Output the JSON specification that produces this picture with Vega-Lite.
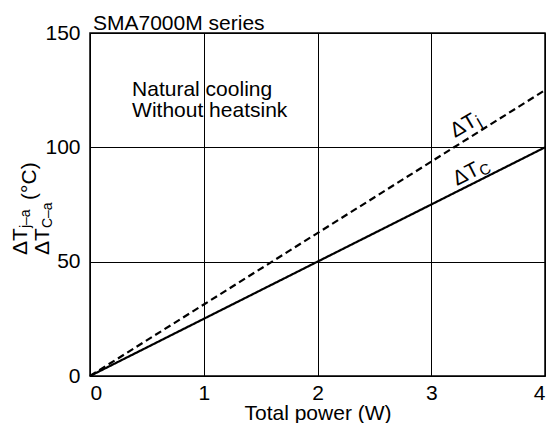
{
  "$schema": "https://vega.github.io/schema/vega-lite/v6.json",
  "width": 455,
  "height": 343,
  "autosize": "none",
  "padding": {"left": 90, "top": 33, "right": 6, "bottom": 47},
  "background": "white",
  "config": {
    "font": "Liberation Sans",
    "view": {"stroke": "black", "strokeWidth": 1.5},
    "axis": {
      "grid": true, "gridColor": "black", "gridWidth": 1, "gridOpacity": 1,
      "domain": false, "ticks": false,
      "labelFont": "Liberation Sans", "labelFontSize": 21, "labelColor": "black",
      "titleFont": "Liberation Sans", "titleFontSize": 21, "titleFontWeight": "normal", "titleColor": "black"
    }
  },
  "title": {
    "text": "SMA7000M series",
    "anchor": "start", "frame": "group", "fontSize": 21, "fontWeight": "normal",
    "font": "Liberation Sans", "color": "black", "baseline": "alphabetic", "offset": -29, "dx": 3
  },
  "layer": [
    {
      "data": {"values": [
        {"series": "Tj", "power": 0, "temp": 0},
        {"series": "Tj", "power": 4, "temp": 125},
        {"series": "Tc", "power": 0, "temp": 0},
        {"series": "Tc", "power": 4, "temp": 100}
      ]},
      "mark": {"type": "line", "color": "black", "strokeWidth": 2.2},
      "encoding": {
        "x": {"field": "power", "type": "quantitative", "scale": {"domain": [0, 4], "nice": false},
              "axis": {"values": [0, 1, 2, 3, 4], "format": "d", "title": "Total power (W)", "labelPadding": 6.5, "titlePadding": -1.5}},
        "y": {"field": "temp", "type": "quantitative", "scale": {"domain": [0, 150], "nice": false},
              "axis": {"values": [0, 50, 100, 150], "format": "d", "title": null, "labelPadding": 10}},
        "detail": {"field": "series"},
        "strokeDash": {"field": "series", "type": "nominal",
                       "scale": {"domain": ["Tj", "Tc"], "range": [[7, 4], [1, 0]]}, "legend": null}
      }
    },
    {
      "data": {"values": [{"label": "Natural cooling\nWithout heatsink", "power": 0.37, "temp": 122.4}]},
      "mark": {"type": "text", "align": "left", "baseline": "alphabetic", "fontSize": 21, "lineHeight": 21, "lineBreak": "\n", "color": "black"},
      "encoding": {
        "x": {"field": "power", "type": "quantitative"},
        "y": {"field": "temp", "type": "quantitative"},
        "text": {"field": "label"}
      }
    },
    {
      "data": {"values": [{"label": "ΔT", "sub": "j", "power": 3.209, "temp": 104.1}]},
      "layer": [
        {"mark": {"type": "text", "align": "left", "baseline": "alphabetic", "fontSize": 21, "angle": 330, "color": "black"},
         "encoding": {"x": {"field": "power", "type": "quantitative"}, "y": {"field": "temp", "type": "quantitative"}, "text": {"field": "label"}}},
        {"mark": {"type": "text", "align": "left", "baseline": "alphabetic", "fontSize": 17, "angle": 330, "dx": 27, "dy": 3, "color": "black"},
         "encoding": {"x": {"field": "power", "type": "quantitative"}, "y": {"field": "temp", "type": "quantitative"}, "text": {"field": "sub"}}}
      ]
    },
    {
      "data": {"values": [{"label": "ΔT", "sub": "C", "power": 3.226, "temp": 83.1}]},
      "layer": [
        {"mark": {"type": "text", "align": "left", "baseline": "alphabetic", "fontSize": 21, "angle": 333, "color": "black"},
         "encoding": {"x": {"field": "power", "type": "quantitative"}, "y": {"field": "temp", "type": "quantitative"}, "text": {"field": "label"}}},
        {"mark": {"type": "text", "align": "left", "baseline": "alphabetic", "fontSize": 15, "angle": 333, "dx": 27, "dy": 3, "color": "black"},
         "encoding": {"x": {"field": "power", "type": "quantitative"}, "y": {"field": "temp", "type": "quantitative"}, "text": {"field": "sub"}}}
      ]
    },
    {
      "data": {"values": [
        {"label": "ΔT", "sub": "j–a", "power": -0.554, "temp": 52.9},
        {"label": "ΔT", "sub": "C–a", "power": -0.360, "temp": 52.9}
      ]},
      "layer": [
        {"mark": {"type": "text", "align": "left", "baseline": "alphabetic", "fontSize": 21, "angle": 270, "color": "black"},
         "encoding": {"x": {"field": "power", "type": "quantitative"}, "y": {"field": "temp", "type": "quantitative"}, "text": {"field": "label"}}},
        {"mark": {"type": "text", "align": "left", "baseline": "alphabetic", "fontSize": 14, "angle": 270, "dx": 27, "dy": 3, "color": "black"},
         "encoding": {"x": {"field": "power", "type": "quantitative"}, "y": {"field": "temp", "type": "quantitative"}, "text": {"field": "sub"}}}
      ]
    },
    {
      "data": {"values": [{"label": "(°C)", "power": -0.475, "temp": 77}]},
      "mark": {"type": "text", "align": "left", "baseline": "alphabetic", "fontSize": 21, "angle": 270, "color": "black"},
      "encoding": {"x": {"field": "power", "type": "quantitative"}, "y": {"field": "temp", "type": "quantitative"}, "text": {"field": "label"}}
    }
  ]
}
